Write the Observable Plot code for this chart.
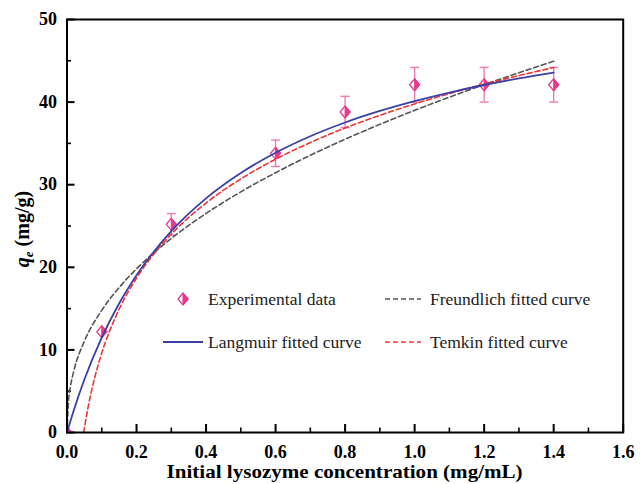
<!DOCTYPE html>
<html>
<head>
<meta charset="utf-8">
<script src="https://cdn.jsdelivr.net/npm/d3@7"></script>
<script src="https://cdn.jsdelivr.net/npm/@observablehq/plot@0.6"></script>
<style>
  html, body { margin: 0; padding: 0; background: #fff; }
  #chart { width: 640px; height: 484px; }
</style>
</head>
<body>
<div id="chart"></div>
<script>
// ---- Data ----
const xData   = [0, 0.1, 0.3, 0.6, 0.8, 1.0, 1.2, 1.4];
const qData   = [0, 12.2, 25.2, 33.8, 38.8, 42.1, 42.1, 42.1];
const errData = [0, 0, 1.3, 1.6, 1.9, 2.1, 2.1, 2.1];

const langX = [0, 0.02, 0.05, 0.1, 0.15, 0.2, 0.3, 0.4, 0.5, 0.6, 0.7, 0.8, 0.9, 1.0, 1.1, 1.2, 1.3, 1.4];
const langQ = [0, 2.75, 6.41, 11.49, 15.61, 19.03, 24.37, 28.35, 31.42, 33.87, 35.87, 37.53, 38.93, 40.12, 41.16, 42.07, 42.87, 43.58];

const freX = [0, 0.005, 0.01, 0.02, 0.05, 0.1, 0.15, 0.2, 0.3, 0.4, 0.5, 0.6, 0.7, 0.8, 0.9, 1.0, 1.1, 1.2, 1.3, 1.4];
const freQ = [0, 4.19, 5.61, 7.52, 11.05, 14.79, 17.55, 19.81, 23.49, 26.52, 29.13, 31.45, 33.56, 35.50, 37.31, 39.0, 40.60, 42.11, 43.55, 44.94];

const temX = [0.048, 0.06, 0.07, 0.08, 0.1, 0.12, 0.15, 0.2, 0.25, 0.3, 0.4, 0.5, 0.6, 0.7, 0.8, 0.9, 1.0, 1.1, 1.2, 1.3, 1.4];
const temQ = [0, 2.92, 4.94, 6.69, 9.62, 12.0, 14.93, 18.70, 21.62, 24.01, 27.78, 30.70, 33.09, 35.11, 36.86, 38.40, 39.78, 41.03, 42.17, 43.21, 44.19];

const xTicks = [0, 0.2, 0.4, 0.6, 0.8, 1.0, 1.2, 1.4, 1.6];
const xTickLabels = ["0.0", "0.2", "0.4", "0.6", "0.8", "1.0", "1.2", "1.4", "1.6"];
const xMinorTicks = [0.1, 0.3, 0.5, 0.7, 0.9, 1.1, 1.3, 1.5];
const yTicks = [0, 10, 20, 30, 40, 50];
const yTickLabels = ["0", "10", "20", "30", "40", "50"];
const yMinorTicks = [5, 15, 25, 35, 45];

const xTitle = "Initial lysozyme concentration (mg/mL)";
const legendLabels = ["Experimental data", "Freundlich fitted curve", "Langmuir fitted curve", "Temkin fitted curve"];

// ---- Styles / layout ----
const pink = "#e8388c";
const pinkLight = "#f27ab2";
const blue = "#3b40a6";
const gray = "#555555";
const red = "#ee3535";
const FONT = "'Liberation Serif', 'Times New Roman', serif";
const W = 640, H = 484, ML = 66.5, MR = 17.3, MT = 19, MB = 52;
const frameW = W - ML - MR, frameH = H - MT - MB;
const majorLen = 8, minorLen = 4.5;

// ---- tables ----
const points = xData.map((x, i) => ({x, q: qData[i], e: errData[i]}));
const bars = points.filter(d => d.e > 0);
const lang = langX.map((x, i) => ({x, q: langQ[i]}));
const fre = freX.map((x, i) => ({x, q: freQ[i]}));
const tem = temX.map((x, i) => ({x, q: temQ[i]}));

// custom symbols
const rOf = size => Math.sqrt(size / Math.PI);
const diamondOutline = { draw(ctx, size) { const r = rOf(size); const h = r * 1.2;
  ctx.moveTo(0, -h); ctx.lineTo(r, 0); ctx.lineTo(0, h); ctx.lineTo(-r, 0); ctx.closePath(); } };
const diamondRight = { draw(ctx, size) { const r = rOf(size); const h = r * 1.2;
  ctx.moveTo(0, -h); ctx.lineTo(r, 0); ctx.lineTo(0, h); ctx.closePath(); } };
const capSym = { draw(ctx, size) { const r = rOf(size); ctx.moveTo(-r, 0); ctx.lineTo(r, 0); } };

const tickFont = {fontSize: 18, fontWeight: "bold", fontFamily: FONT, fill: "black"};

const svg = Plot.plot({
  width: W,
  height: H,
  marginLeft: ML,
  marginRight: MR,
  marginTop: MT,
  marginBottom: MB,
  style: {fontFamily: FONT, background: "#fff", color: "black"},
  x: {domain: [0, 1.6]},
  y: {domain: [0, 50]},
  marks: [
    // axis tick labels
    Plot.axisX(xTicks, {tickSize: 0, tickPadding: 13, tickFormat: (d, i) => xTickLabels[i], label: null, ...tickFont}),
    Plot.axisY(yTicks, {tickSize: 0, tickPadding: 10, tickFormat: (d, i) => yTickLabels[i], label: null, ...tickFont}),
    // inward tick marks
    Plot.tickX(xTicks, {x: d => d, insetTop: frameH - majorLen, stroke: "black", strokeWidth: 2}),
    Plot.tickX(xMinorTicks, {x: d => d, insetTop: frameH - minorLen, stroke: "black", strokeWidth: 1.6}),
    Plot.tickY(yTicks, {y: d => d, insetRight: frameW - majorLen, stroke: "black", strokeWidth: 2}),
    Plot.tickY(yMinorTicks, {y: d => d, insetRight: frameW - minorLen, stroke: "black", strokeWidth: 1.6}),
    // error bars
    Plot.ruleX(bars, {x: "x", y1: d => d.q - d.e, y2: d => d.q + d.e, stroke: pinkLight, strokeWidth: 1.4}),
    Plot.dot(bars, {x: "x", y: d => d.q + d.e, symbol: capSym, r: 4.5, stroke: pinkLight, strokeWidth: 1.4, fill: "none"}),
    Plot.dot(bars, {x: "x", y: d => d.q - d.e, symbol: capSym, r: 4.5, stroke: pinkLight, strokeWidth: 1.4, fill: "none"}),
    // markers
    Plot.dot(points, {x: "x", y: "q", symbol: diamondOutline, r: 5, fill: "white", stroke: pink, strokeWidth: 1.3, clip: "frame"}),
    Plot.dot(points, {x: "x", y: "q", symbol: diamondRight, r: 5, fill: pink, stroke: pink, strokeWidth: 1, clip: "frame"}),
    // fitted curves
    Plot.line(fre, {x: "x", y: "q", stroke: gray, strokeWidth: 1.6, strokeDasharray: "5,3", curve: "monotone-x", clip: "frame"}),
    Plot.line(tem, {x: "x", y: "q", stroke: red, strokeWidth: 1.6, strokeDasharray: "5,3", curve: "monotone-x", clip: "frame"}),
    Plot.line(lang, {x: "x", y: "q", stroke: blue, strokeWidth: 1.8, curve: "monotone-x", clip: "frame"}),
    Plot.frame({stroke: "black", strokeWidth: 2})
  ]
});

const s = d3.select(svg);

// x-axis title
s.append("text")
  .attr("x", ML + frameW / 2).attr("y", 478)
  .attr("text-anchor", "middle")
  .attr("font-family", FONT).attr("font-size", 19.5).attr("font-weight", "bold")
  .attr("textLength", 356).attr("lengthAdjust", "spacingAndGlyphs")
  .attr("fill", "black")
  .text(xTitle);

// y-axis title with italic q and subscript e
const yt = s.append("text")
  .attr("transform", "translate(29,229) rotate(-90)")
  .attr("text-anchor", "middle")
  .attr("font-family", FONT).attr("font-size", 20).attr("font-weight", "bold")
  .attr("fill", "black");
yt.append("tspan").attr("font-style", "italic").text("q");
yt.append("tspan").attr("font-style", "italic").attr("font-size", 13).attr("dy", 4).text("e");
yt.append("tspan").attr("dy", -4).text(" (mg/g)");

// legend (inside plot area)
const lg = s.append("g").attr("font-family", FONT).attr("font-size", 17.5).attr("fill", "#222")
  .attr("text-anchor", "start");
const r = 5, h = 6;
const mx = 183, my1 = 299, my2 = 342;
lg.append("path").attr("d", `M${mx},${my1 - h}L${mx + r},${my1}L${mx},${my1 + h}L${mx - r},${my1}Z`)
  .attr("fill", "white").attr("stroke", pink).attr("stroke-width", 1.3);
lg.append("path").attr("d", `M${mx},${my1 - h}L${mx + r},${my1}L${mx},${my1 + h}Z`)
  .attr("fill", pink).attr("stroke", pink);
lg.append("text").attr("x", 208).attr("y", my1).attr("dy", "0.35em").attr("text-anchor", "start").text(legendLabels[0]);

lg.append("line").attr("x1", 385).attr("x2", 421).attr("y1", my1).attr("y2", my1)
  .attr("stroke", gray).attr("stroke-width", 1.6).attr("stroke-dasharray", "5,3");
lg.append("text").attr("x", 430).attr("y", my1).attr("dy", "0.35em").attr("text-anchor", "start").text(legendLabels[1]);

lg.append("line").attr("x1", 163).attr("x2", 203).attr("y1", my2).attr("y2", my2)
  .attr("stroke", blue).attr("stroke-width", 1.8);
lg.append("text").attr("x", 208).attr("y", my2).attr("dy", "0.35em").attr("text-anchor", "start").text(legendLabels[2]);

lg.append("line").attr("x1", 385).attr("x2", 421).attr("y1", my2).attr("y2", my2)
  .attr("stroke", red).attr("stroke-width", 1.6).attr("stroke-dasharray", "5,3");
lg.append("text").attr("x", 430).attr("y", my2).attr("dy", "0.35em").attr("text-anchor", "start").text(legendLabels[3]);

document.getElementById("chart").appendChild(svg);
</script>
</body>
</html>
